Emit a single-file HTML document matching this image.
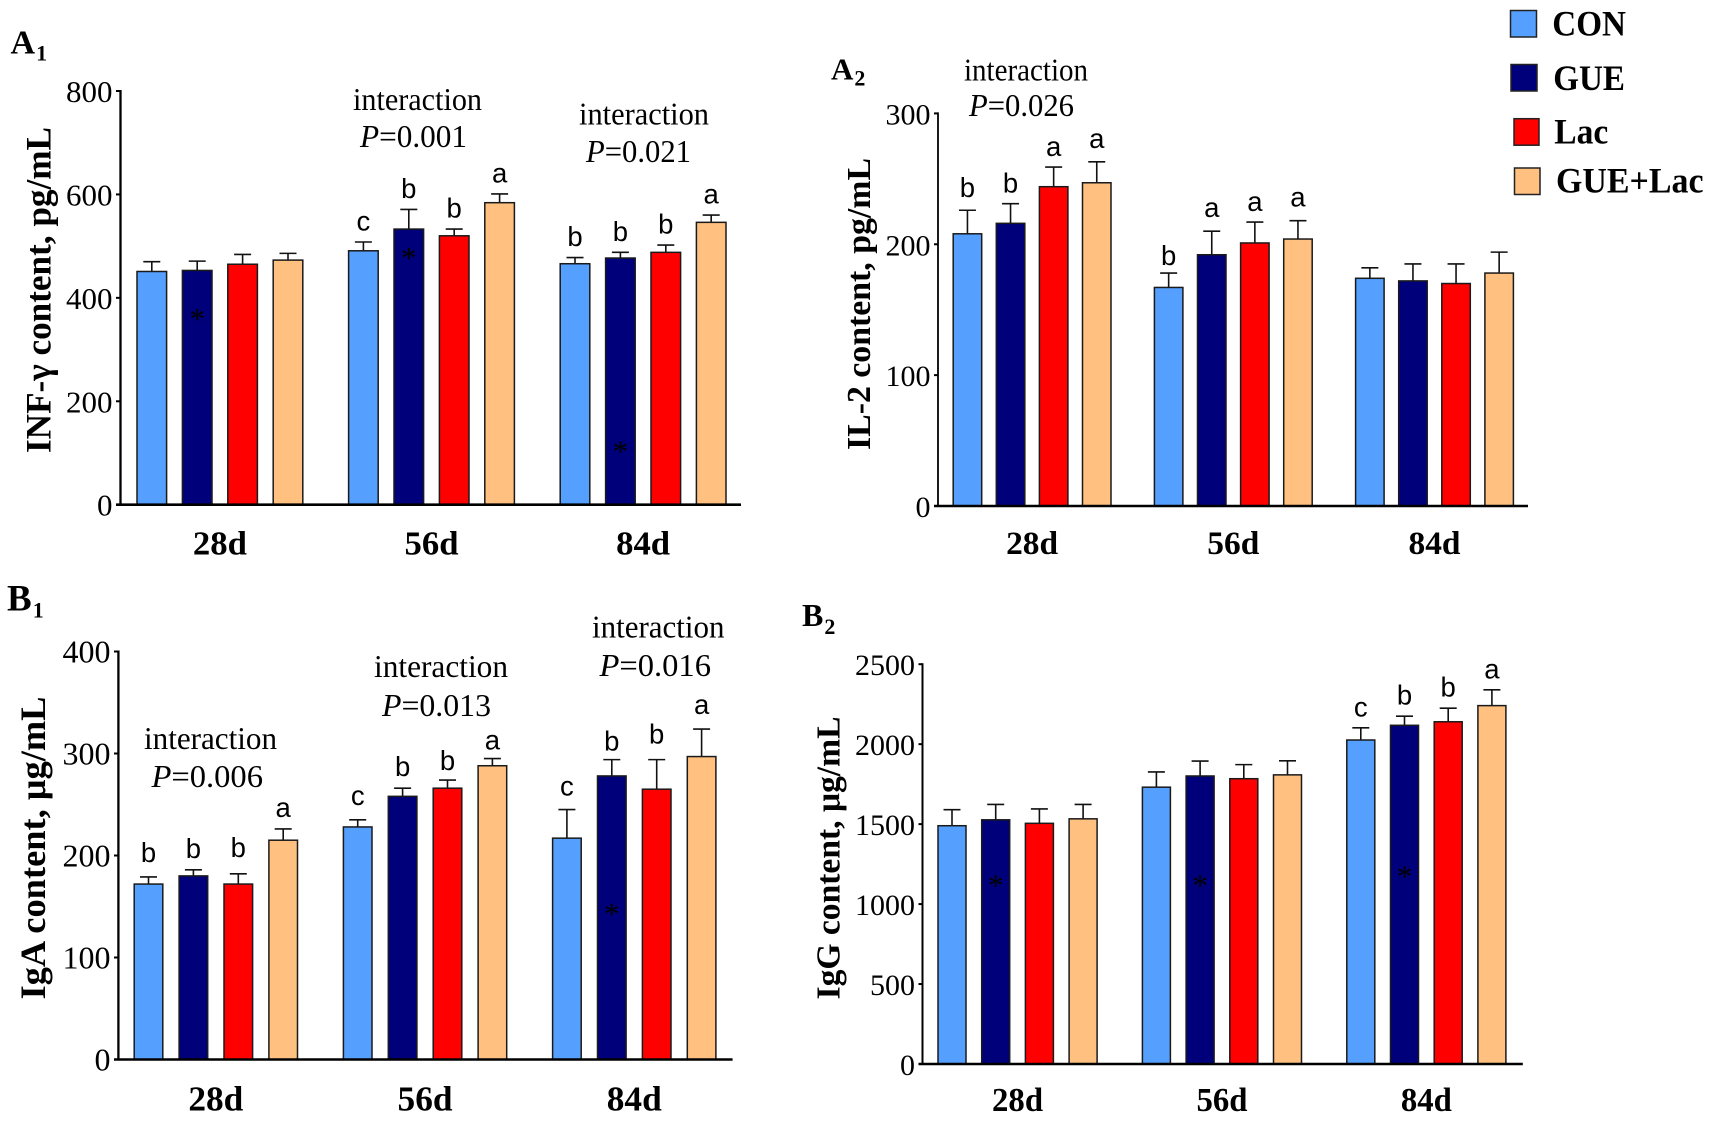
<!DOCTYPE html>
<html lang="en">
<head>
<meta charset="utf-8">
<title>Immunoglobulin and cytokine content by treatment</title>
<style>
html,body{margin:0;padding:0;background:#fff;}
svg{display:block;}
text{font-family:"Liberation Serif",serif;fill:#000;}
.sans{font-family:"Liberation Sans",sans-serif;}
</style>
</head>
<body>
<svg id="figure" xmlns="http://www.w3.org/2000/svg" width="1713" height="1121" viewBox="0 0 1713 1121"></svg>
<script>
const categories = ['28d', '56d', '84d'];
const seriesNames = ['CON', 'GUE', 'Lac', 'GUE+Lac'];
const seriesColors = ['#559FFF', '#00007A', '#FE0000', '#FFC080'];

const a1Ticks = [0, 200, 400, 600, 800];
const a1Means = [[451, 453, 465, 473], [491, 533, 520, 584], [466, 477, 488, 546]];
const a1Errors = [[19, 18, 19, 13], [17, 38, 13, 17], [12, 11, 14, 14]];
const a1Letters = [[null, null, null, null], ['c', 'b', 'b', 'a'], ['b', 'b', 'b', 'a']];
const a1Stars = [368, 486, 112];
const a1PValues = ['0.001', '0.021'];

const a2Ticks = [0, 100, 200, 300];
const a2Means = [[208, 216, 244, 247], [167, 192, 201, 204], [174, 172, 170, 178]];
const a2Errors = [[18, 15, 15, 16], [11, 18, 16, 14], [8, 13, 15, 16]];
const a2Letters = [['b', 'b', 'a', 'a'], ['b', 'a', 'a', 'a'], [null, null, null, null]];
const a2Stars = [];
const a2PValues = ['0.026'];

const b1Ticks = [0, 100, 200, 300, 400];
const b1Means = [[172, 180, 172, 215], [228, 258, 266, 288], [217, 278, 265, 297]];
const b1Errors = [[7, 6, 10, 11], [7, 8, 8, 7], [28, 16, 29, 27]];
const b1Letters = [['b', 'b', 'b', 'a'], ['c', 'b', 'b', 'a'], ['c', 'b', 'b', 'a']];
const b1Stars = [null, null, 147];
const b1PValues = ['0.006', '0.013', '0.016'];

const b2Ticks = [0, 500, 1000, 1500, 2000, 2500];
const b2Means = [[1490, 1527, 1505, 1533], [1731, 1801, 1784, 1808], [2026, 2118, 2140, 2241]];
const b2Errors = [[100, 96, 90, 90], [95, 93, 88, 88], [76, 57, 85, 99]];
const b2Letters = [[null, null, null, null], [null, null, null, null], ['c', 'b', 'b', 'a']];
const b2Stars = [1145, 1145, 1200];
const b2PValues = [];

const panels = [
  { id: 'a1', tag: 'A', sub: '1', tagX: 10.5, tagY: 53.3, tagSize: 34, subY: 60.7, subSize: 22,
    axisX: 120.5, axisW: 2.3, topY: 91, baseY: 504.7, startX: 116, endX: 741,
    firstBar: 137, barW: 29.6, barPitch: 45.4, groupPitch: 211.6,
    ticks: a1Ticks, means: a1Means, errors: a1Errors, letters: a1Letters, stars: a1Stars, pValues: a1PValues,
    tickSize: 31, catY: 554.5, catLen: 54, catSize: 34,
    yTitle: 'INF-γ content, pg/mL', titleX: 50.5, titleLen: 326, titleCenter: 290, titleSize: 36,
    gap: 11.5, nudge: {},
    notes: [{ x: 353, y: 110, w: 129, px: 360, py: 147, pw: 107 }, { x: 579, y: 124.4, w: 130, px: 586, py: 162, pw: 105 }] },
  { id: 'a2', tag: 'A', sub: '2', tagX: 831, tagY: 79.3, tagSize: 31, subY: 85.4, subSize: 22,
    axisX: 938, axisW: 1.8, topY: 113.4, baseY: 506, startX: 934, endX: 1528,
    firstBar: 953.2, barW: 28.5, barPitch: 43.1, groupPitch: 201.2,
    ticks: a2Ticks, means: a2Means, errors: a2Errors, letters: a2Letters, stars: a2Stars, pValues: a2PValues,
    tickSize: 30, catY: 554, catLen: 52, catSize: 33,
    yTitle: 'IL-2 content, pg/mL', titleX: 870, titleLen: 292, titleCenter: 304, titleSize: 34,
    gap: 11, nudge: { '0,0': 2, '0,3': 3, '1,0': -3, '1,1': 3, '1,3': 3 },
    notes: [{ x: 964, y: 80.7, w: 124, px: 969, py: 116, pw: 105 }] },
  { id: 'b1', tag: 'B', sub: '1', tagX: 7, tagY: 610.4, tagSize: 37, subY: 617.4, subSize: 22,
    axisX: 118.4, axisW: 2.3, topY: 651.5, baseY: 1059.5, startX: 114, endX: 732.6,
    firstBar: 134.2, barW: 28.6, barPitch: 44.9, groupPitch: 209.2,
    ticks: b1Ticks, means: b1Means, errors: b1Errors, letters: b1Letters, stars: b1Stars, pValues: b1PValues,
    tickSize: 32, catY: 1110.5, catLen: 55, catSize: 35,
    yTitle: 'IgA content, μg/mL', titleX: 45, titleLen: 303, titleCenter: 848, titleSize: 36,
    gap: 12, nudge: { '0,0': 3, '0,2': 5, '1,0': 3, '1,2': -2, '1,3': -3, '2,0': 2, '2,1': -3, '2,2': 4, '2,3': 3 },
    notes: [{ x: 144, y: 749, w: 133, px: 151.5, py: 787, pw: 111.5 }, { x: 374, y: 677, w: 134, px: 382, py: 716, pw: 109 }, { x: 592, y: 637.5, w: 132.5, px: 599.5, py: 676, pw: 111.5 }] },
  { id: 'b2', tag: 'B', sub: '2', tagX: 802, tagY: 626, tagSize: 32, subY: 634, subSize: 22,
    axisX: 922.5, axisW: 2, topY: 664.2, baseY: 1064, startX: 918.5, endX: 1522.8,
    firstBar: 938, barW: 28, barPitch: 43.7, groupPitch: 204.4,
    ticks: b2Ticks, means: b2Means, errors: b2Errors, letters: b2Letters, stars: b2Stars, pValues: b2PValues,
    tickSize: 30, catY: 1111, catLen: 51, catSize: 33.5,
    yTitle: 'IgG content, μg/mL', titleX: 839.6, titleLen: 283, titleCenter: 858, titleSize: 34,
    gap: 11.5, nudge: {},
    notes: [] }
];

const legendRows = [
  { sx: 1510.5, sy: 10.5, sw: 26, sh: 26.5, tx: 1552.3, ty: 35.7, tw: 73.7 },
  { sx: 1511, sy: 64.5, sw: 26, sh: 26.5, tx: 1553.3, ty: 90, tw: 71.7 },
  { sx: 1514, sy: 118.7, sw: 25, sh: 26.5, tx: 1554.3, ty: 143.3, tw: 54 },
  { sx: 1514.5, sy: 168, sw: 25.5, sh: 26.5, tx: 1556, ty: 192.7, tw: 147.5 }
];

const SVG_NS = 'http://www.w3.org/2000/svg';
const figure = document.getElementById('figure');

function mk(tag, attrs, parent, content) {
  const node = document.createElementNS(SVG_NS, tag);
  for (const key in attrs) {
    node.setAttribute(key, attrs[key]);
  }
  if (content !== undefined) {
    node.textContent = content;
  }
  parent.appendChild(node);
  return node;
}

function drawPanel(p) {
  const g = mk('g', {}, figure);
  
  

  const maxValue = p.ticks[p.ticks.length - 1];
  const yOf = v => p.baseY - (v / maxValue) * (p.baseY - p.topY);
  const xOf = (groupIndex, seriesIndex) => p.firstBar + groupIndex * p.groupPitch + seriesIndex * p.barPitch;

  const tagText = mk('text', { x: p.tagX, y: p.tagY, 'font-size': p.tagSize, 'font-weight': 'bold' }, g);
  
  
  mk('tspan', {}, tagText, p.tag);
  mk('tspan', { dx: 1, dy: p.subY - p.tagY, 'font-size': p.subSize }, tagText, p.sub);

  p.means.forEach((groupMeans, gi) => {
    groupMeans.forEach((mean, si) => {
      const left = xOf(gi, si);
      const cx = left + p.barW / 2;
      const topY = yOf(mean);
      const errY = yOf(mean + p.errors[gi][si]);

      const stem = mk('line', { x1: cx, x2: cx, y1: topY, y2: errY, stroke: '#111', 'stroke-width': 1.6 }, g);
      
      

      const cap = mk('line', { x1: cx - 8.5, x2: cx + 8.5, y1: errY, y2: errY, stroke: '#111', 'stroke-width': 1.6 }, g);
      
      

      const bar = mk('rect', { x: left, y: topY, width: p.barW, height: p.baseY - topY, fill: seriesColors[si], stroke: '#1a1a1a', 'stroke-width': 1.5 }, g);
      
      

      const letter = p.letters[gi][si];
      if (letter) {
        const lift = p.gap + (p.nudge[gi + ',' + si] || 0);
        const label = mk('text', { x: cx, y: errY - lift, 'font-size': 27.5, 'text-anchor': 'middle', class: 'sans' }, g, letter);
        
        
      }
    });

    const starValue = p.stars[gi];
    if (starValue !== undefined && starValue !== null) {
      const starX = xOf(gi, 1) + p.barW / 2;
      const star = mk('text', { x: starX, y: yOf(starValue) + 14.6, 'font-size': 31, 'text-anchor': 'middle' }, g, '*');
      
      
    }

    const groupCenter = xOf(gi, 0) + (3 * p.barPitch + p.barW) / 2;
    const cat = mk('text', { x: groupCenter, y: p.catY, 'font-size': p.catSize, 'font-weight': 'bold', 'text-anchor': 'middle', textLength: p.catLen, lengthAdjust: 'spacingAndGlyphs' }, g, categories[gi]);
    
    
  });

  const yAxis = mk('line', { x1: p.axisX, x2: p.axisX, y1: p.topY - 1, y2: p.baseY, stroke: '#000', 'stroke-width': p.axisW }, g);
  
  

  const xAxis = mk('line', { x1: p.startX, x2: p.endX, y1: p.baseY, y2: p.baseY, stroke: '#000', 'stroke-width': 2.6 }, g);
  
  

  p.ticks.forEach(tickValue => {
    const ty = yOf(tickValue);
    const tick = mk('line', { x1: p.startX, x2: p.axisX, y1: ty, y2: ty, stroke: '#000', 'stroke-width': 2 }, g);
    
    

    const tickLabel = mk('text', { x: p.startX - 3.5, y: ty + 11, 'font-size': p.tickSize, 'text-anchor': 'end' }, g, String(tickValue));
    
    
  });

  const title = mk('text', { transform: 'translate(' + p.titleX + ',' + p.titleCenter + ') rotate(-90)', 'font-size': p.titleSize, 'font-weight': 'bold', 'text-anchor': 'middle', textLength: p.titleLen, lengthAdjust: 'spacingAndGlyphs' }, g, p.yTitle);
  
  

  p.notes.forEach((note, i) => {
    const word = mk('text', { x: note.x, y: note.y, 'font-size': 32, textLength: note.w, lengthAdjust: 'spacingAndGlyphs' }, g, 'interaction');
    
    

    const pText = mk('text', { x: note.px, y: note.py, 'font-size': 32, textLength: note.pw, lengthAdjust: 'spacingAndGlyphs' }, g);
    
    
    mk('tspan', { 'font-style': 'italic' }, pText, 'P');
    mk('tspan', {}, pText, '=' + p.pValues[i]);
  });
}

panels.forEach(drawPanel);

const legend = mk('g', {}, figure);



legendRows.forEach((row, i) => {
  const swatch = mk('rect', { x: row.sx, y: row.sy, width: row.sw, height: row.sh, fill: seriesColors[i], stroke: '#222', 'stroke-width': 1.5 }, legend);
  
  

  const entry = mk('text', { x: row.tx, y: row.ty, 'font-size': 36, 'font-weight': 'bold', textLength: row.tw, lengthAdjust: 'spacingAndGlyphs' }, legend, seriesNames[i]);
  
  
});
</script>
</body>
</html>
